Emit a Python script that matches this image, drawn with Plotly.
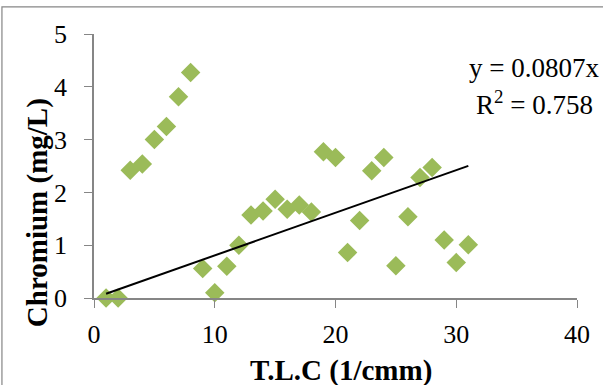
import plotly.graph_objects as go

tlc = [1, 2, 3, 4, 5, 6, 7, 8, 9, 10, 11, 12, 13, 14, 15, 16, 17, 18, 19, 20,
       21, 22, 23, 24, 25, 26, 27, 28, 29, 30, 31]
chromium = [0.0, 0.0, 2.42, 2.54, 3.0, 3.25, 3.81, 4.27, 0.56, 0.1, 0.6, 1.0,
            1.57, 1.65, 1.87, 1.68, 1.76, 1.63, 2.77, 2.66, 0.86, 1.47, 2.41,
            2.66, 0.61, 1.54, 2.28, 2.47, 1.10, 0.67, 1.01]
slope = 0.0807
r2 = 0.758
x_ticks = [0, 10, 20, 30, 40]
y_ticks = [0, 1, 2, 3, 4, 5]

FONT = "Liberation Serif"
trend_x = [min(tlc), max(tlc)]
trend_y = [slope * v for v in trend_x]

fig = go.Figure()
fig.add_trace(go.Scatter(
    x=tlc, y=chromium, mode="markers",
    marker=dict(symbol="diamond", size=15, color="#9BBB59",
                line=dict(width=0)),
    showlegend=False, cliponaxis=False))
fig.add_trace(go.Scatter(
    x=trend_x, y=trend_y, mode="lines",
    line=dict(color="black", width=2), showlegend=False))

W, H = 603, 385
L, R, T, B = 94, 26.3, 34, 87.3
pw, ph = W - L - R, H - T - B

def px(xp):
    return (xp - L) / pw

def py(yp):
    return (H - B - yp) / ph

fig.update_layout(
    width=W, height=H,
    margin=dict(l=L, r=R, t=T, b=B),
    paper_bgcolor="white", plot_bgcolor="white",
    font=dict(family=FONT, size=26, color="black"),
    xaxis=dict(range=[0, 40], tickvals=x_ticks, showgrid=False, zeroline=False,
               showline=True, linecolor="#868686", linewidth=1.5,
               ticks="outside", ticklen=8, tickcolor="#868686",
               ticklabelstandoff=4,
               tickfont=dict(family=FONT, size=26)),
    yaxis=dict(range=[0, 5], tickvals=y_ticks, showgrid=False, zeroline=False,
               showline=True, linecolor="#868686", linewidth=1.5,
               ticks="outside", ticklen=8, tickcolor="#868686",
               ticklabelstandoff=12,
               tickfont=dict(family=FONT, size=26)),
    shapes=[dict(type="rect", xref="paper", yref="paper",
                 x0=px(2), x1=px(640), y0=py(420), y1=py(7),
                 line=dict(color="#868686", width=1.2), layer="below")],
    annotations=[
        dict(text="<b>T.L.C (1/cmm)</b>", xref="paper", yref="paper",
             x=px(341), y=py(370), showarrow=False,
             font=dict(family=FONT, size=29), xanchor="center", yanchor="middle"),
        dict(text="<b>Chromium (mg/L)</b>", xref="paper", yref="paper",
             x=px(37), y=py(212), showarrow=False, textangle=-90,
             font=dict(family=FONT, size=29), xanchor="center", yanchor="middle"),
        dict(text="y = %.4fx" % slope, xref="paper", yref="paper",
             x=px(534), y=py(85), showarrow=False,
             font=dict(family=FONT, size=27), xanchor="center", yanchor="bottom"),
        dict(text="R<sup>2</sup> = %.3f" % r2, xref="paper", yref="paper",
             x=px(534), y=py(84), showarrow=False,
             font=dict(family=FONT, size=27), xanchor="center", yanchor="top"),
    ],
)

fig.write_html(
    "out.html",
    config={"displayModeBar": False},
    post_script="document.body.style.margin='0';document.body.style.overflow='hidden';",
)
